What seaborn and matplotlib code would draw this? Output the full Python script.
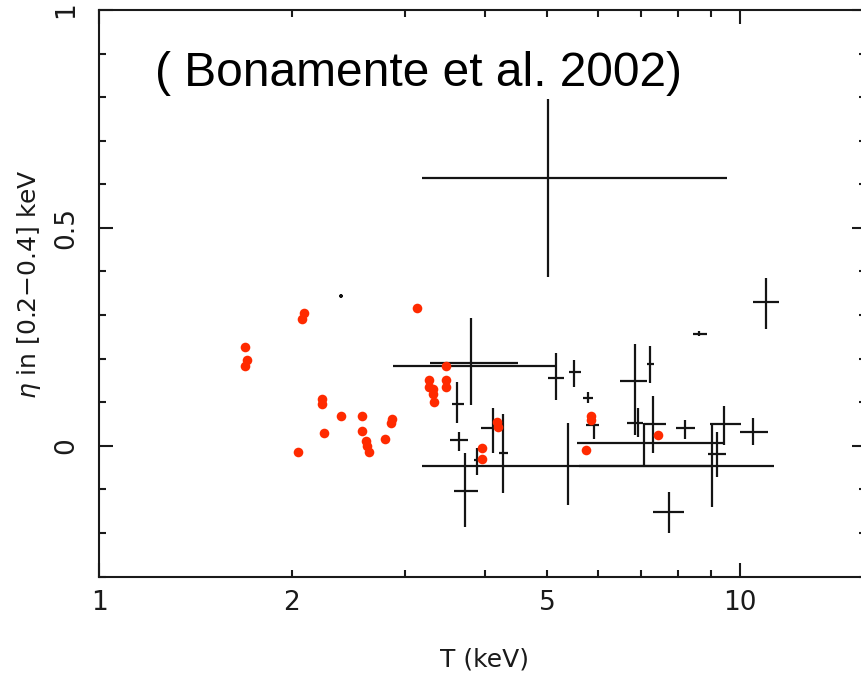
import numpy as np
import pandas as pd
import seaborn as sns
import matplotlib
matplotlib.use("Agg")
import matplotlib.pyplot as plt
from matplotlib.ticker import FixedLocator, FuncFormatter, MultipleLocator

# Red points: soft-excess estimates without error bars
red_T = [1.69, 1.70, 1.69, 2.09, 2.07, 2.23, 2.23, 2.245, 2.045, 2.385,
         2.57, 2.57, 2.61, 2.62, 2.64, 2.79, 2.855, 2.87, 3.13, 3.27,
         3.27, 3.32, 3.32, 3.33, 3.48, 3.48, 3.48, 3.96, 3.96, 4.18,
         4.19, 5.86, 5.86, 5.75, 7.45]
red_eta = [0.227, 0.197, 0.183, 0.305, 0.291, 0.108, 0.096, 0.030, -0.014, 0.069,
           0.069, 0.033, 0.012, 0.000, -0.014, 0.016, 0.053, 0.062, 0.317, 0.151,
           0.135, 0.131, 0.119, 0.101, 0.183, 0.151, 0.135, -0.005, -0.030, 0.055,
           0.044, 0.069, 0.058, -0.009, 0.025]

# Black points with asymmetric error bars (best value and lower/upper bounds)
blk_T = [5.02, 2.385, 3.80, 3.86, 5.17, 3.62, 3.64, 3.72, 5.39, 9.06,
         7.08, 9.44, 9.21, 6.86, 7.24, 6.93, 7.32, 8.21, 10.48, 10.98,
         8.63, 7.75, 5.51, 5.79, 5.92, 4.12, 4.27, 3.89]
blk_T_lo = [3.19, 2.37, 3.28, 2.88, 5.02, 3.55, 3.53, 3.58, 3.19, 5.60,
            5.57, 8.98, 8.92, 6.49, 7.16, 6.66, 7.08, 7.94, 10.00, 10.50,
            8.46, 7.31, 5.42, 5.70, 5.76, 3.94, 4.21, 3.84]
blk_T_hi = [9.55, 2.40, 4.50, 5.18, 5.32, 3.71, 3.77, 3.90, 9.06, 11.30,
            9.48, 10.05, 9.51, 7.17, 7.35, 7.07, 7.68, 8.50, 11.06, 11.50,
            8.89, 8.18, 5.64, 5.90, 6.03, 4.25, 4.34, 3.92]
blk_eta = [0.615, 0.344, 0.190, 0.183, 0.156, 0.096, 0.014, -0.103, -0.046, -0.046,
           0.007, 0.050, -0.018, 0.149, 0.188, 0.053, 0.050, 0.041, 0.032, 0.330,
           0.257, -0.151, 0.170, 0.110, 0.048, 0.041, -0.016, -0.032]
blk_eta_lo = [0.388, 0.339, 0.094, 0.181, 0.106, 0.053, -0.011, -0.186, -0.135, -0.140,
              -0.046, 0.002, -0.071, 0.025, 0.145, 0.021, -0.016, 0.016, 0.002, 0.268,
              0.251, -0.200, 0.135, 0.099, 0.016, -0.016, -0.108, -0.067]
blk_eta_hi = [0.796, 0.349, 0.294, 0.185, 0.213, 0.147, 0.032, -0.016, 0.053, 0.050,
              0.053, 0.092, 0.032, 0.234, 0.229, 0.087, 0.115, 0.060, 0.064, 0.385,
              0.263, -0.106, 0.197, 0.124, 0.060, 0.087, 0.073, -0.005]

x_ticklabels = {1: "1", 2: "2", 5: "5", 10: "10"}
y_ticks = [0, 0.5, 1]
y_ticklabels = ["0", "0.5", "1"]

sns.set_style("ticks")
plt.rcParams["font.family"] = ["DejaVu Sans"]
plt.rcParams["mathtext.fontset"] = "dejavusans"

fig = plt.figure(figsize=(8.61, 6.75), dpi=100)
W, H = 861.0, 675.0
ax = fig.add_axes([99 / W, 98.5 / H, 767 / W, 566.5 / H])

red_df = pd.DataFrame({"T": red_T, "eta": red_eta})
blk = pd.DataFrame({"T": blk_T, "lo": blk_T_lo, "hi": blk_T_hi,
                    "eta": blk_eta, "elo": blk_eta_lo, "ehi": blk_eta_hi})

ax.set_xscale("log")
ax.set_xlim(1, 15.73)
ax.set_ylim(-0.3, 1.0)

# error-bar crosses
ax.errorbar(blk["T"], blk["eta"],
            xerr=[blk["T"] - blk["lo"], blk["hi"] - blk["T"]],
            yerr=[blk["eta"] - blk["elo"], blk["ehi"] - blk["eta"]],
            fmt="none", ecolor="#141414", elinewidth=1.6, capsize=0, zorder=2)

sns.scatterplot(data=red_df, x="T", y="eta", ax=ax, color="#ff2a00",
                s=48, linewidth=0, zorder=3, legend=False)

# axes frame and ticks
for sp in ax.spines.values():
    sp.set_linewidth(1.5)
    sp.set_color("#1a1a1a")

ax.xaxis.set_major_locator(FixedLocator([1, 10]))
ax.xaxis.set_minor_locator(FixedLocator([2, 3, 4, 5, 6, 7, 8, 9]))
ax.xaxis.set_major_formatter(FuncFormatter(lambda v, p: x_ticklabels.get(int(round(v)), "")))
ax.xaxis.set_minor_formatter(FuncFormatter(lambda v, p: x_ticklabels.get(int(round(v)), "")))

ax.yaxis.set_major_locator(FixedLocator(y_ticks))
ax.yaxis.set_minor_locator(MultipleLocator(0.1))
ax.set_yticks(y_ticks, y_ticklabels, rotation=90, va="center")

ax.tick_params(which="both", direction="in", top=True, right=True,
               color="#1a1a1a", width=1.5, labelsize=19, labelcolor="#1a1a1a")
ax.tick_params(which="major", length=10)
ax.tick_params(which="minor", length=5)
ax.tick_params(axis="x", which="both", pad=10)
ax.tick_params(axis="y", which="both", pad=14)

ax.set_xlabel("T (keV)", fontsize=18, color="#1a1a1a")
ax.set_ylabel(r"$\eta$ in [0.2$-$0.4] keV", fontsize=18, color="#1a1a1a")
ax.xaxis.set_label_coords(0.503, -0.1245)
ax.yaxis.set_label_coords(-0.073, 0.516)

ax.text(0.073, 0.866, "( Bonamente et al. 2002)", transform=ax.transAxes,
        fontsize=34.5, family="Liberation Sans", color="black",
        ha="left", va="baseline")

fig.savefig("out.png", dpi=100)
